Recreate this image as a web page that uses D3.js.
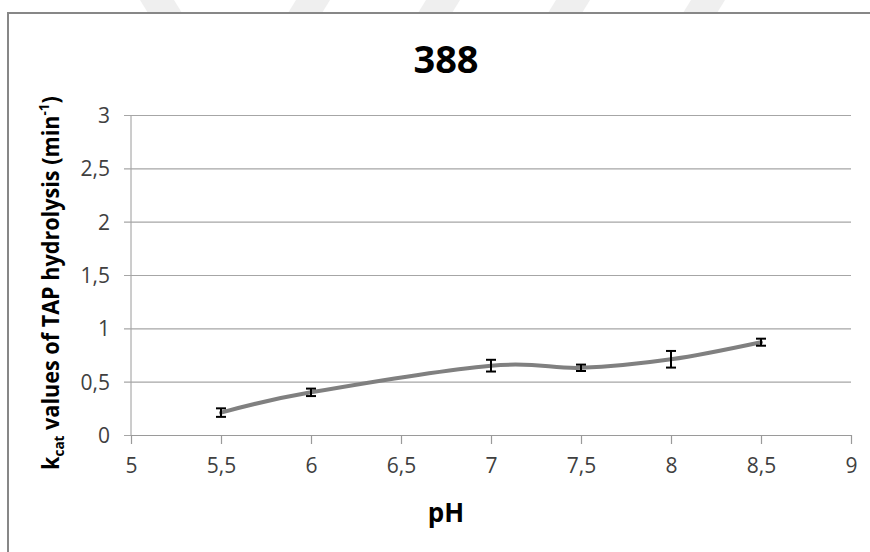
<!DOCTYPE html>
<html>
<head>
<meta charset="utf-8">
<script src="https://cdn.jsdelivr.net/npm/d3@7"></script>
<style>
  html, body { margin: 0; padding: 0; background: #fff; }
  svg { display: block; }
  text { font-family: "Open Sans", "Liberation Sans", sans-serif; }
</style>
</head>
<body>
<svg id="chart" width="870" height="552"></svg>
<script>
// pH values and measured kcat (min^-1) with standard deviations
const ph = [5.5, 6, 6.5, 7, 7.5, 8, 8.5];
const kcat = [0.21, 0.40, null, 0.65, 0.63, 0.71, 0.87];
const errs = [0.04, 0.035, null, 0.055, 0.03, 0.078, 0.033];
const xTicks = [5, 5.5, 6, 6.5, 7, 7.5, 8, 8.5, 9];
const yTicks = [0, 0.5, 1, 1.5, 2, 2.5, 3];
const title = "388";

const svg = d3.select("#chart");
const fmt = v => String(v).replace(".", ",");

// faint background stripes above the chart frame
const stripes = [[140, 200, -1], [270, 330, 1], [400, 460, 1], [530, 590, 1], [662, 725, 1]];
svg.append("g").selectAll("polygon").data(stripes).join("polygon")
  .attr("fill", "#efefef")
  .attr("points", d => {
    const [a, b, dir] = d;
    const s = 8;
    return dir < 0
      ? `${a},0 ${a + 34},0 ${a + 34 + s},13 ${a + s},13`
      : `${b - 34},0 ${b},0 ${b - s},13 ${b - 34 - s},13`;
  });

// chart frame
svg.append("rect")
  .attr("x", 8).attr("y", 13).attr("width", 900).attr("height", 600)
  .attr("fill", "#fff").attr("stroke", "#878787").attr("stroke-width", 2);

const m = { left: 131, right: 851, top: 115, bottom: 435 };
const x = d3.scaleLinear().domain([5, 9]).range([m.left, m.right]);
const y = d3.scaleLinear().domain([0, 3]).range([m.bottom, m.top]);

// horizontal gridlines + y axis
const yAxis = d3.axisLeft(y).tickValues(yTicks).tickFormat(fmt)
  .tickSize(-(m.right - m.left)).tickPadding(15);
const gy = svg.append("g").attr("transform", `translate(${m.left},0)`).call(yAxis);
gy.select(".domain").attr("stroke", "#9a9a9a").attr("d", `M0,${m.top}V${m.bottom}`);
gy.selectAll(".tick line").attr("stroke", "#a6a6a6").attr("stroke-width", 1.2)
  .attr("x1", -7);
gy.selectAll(".tick text").attr("font-size", 21).attr("fill", "#404040")
  .attr("x", -21).attr("dy", "0.36em");

// x axis
const xAxis = d3.axisBottom(x).tickValues(xTicks).tickFormat(fmt)
  .tickSize(9).tickSizeOuter(0).tickPadding(14);
const gx = svg.append("g").attr("transform", `translate(0,${m.bottom})`).call(xAxis);
gx.select(".domain").attr("stroke", "#9a9a9a").attr("stroke-width", 1.2);
gx.selectAll(".tick line").attr("stroke", "#9a9a9a").attr("stroke-width", 1.2);
gx.selectAll(".tick text").attr("font-size", 21).attr("fill", "#404040").attr("dy", "0.71em");

// data
const pts = ph.map((p, i) => ({ p, v: kcat[i], e: errs[i] })).filter(d => d.v != null);

const line = d3.line().x(d => x(d.p)).y(d => y(d.v)).curve(d3.curveCardinal.tension(0));
svg.append("path").datum(pts)
  .attr("d", line).attr("fill", "none")
  .attr("stroke", "#808080").attr("stroke-width", 4).attr("stroke-linecap", "round");

// error bars
const eb = svg.append("g").selectAll("g").data(pts).join("g")
  .attr("stroke", "#000").attr("stroke-width", 2);
eb.append("line")
  .attr("x1", d => x(d.p)).attr("x2", d => x(d.p))
  .attr("y1", d => y(d.v - d.e)).attr("y2", d => y(d.v + d.e));
eb.append("line")
  .attr("x1", d => x(d.p) - 5).attr("x2", d => x(d.p) + 5)
  .attr("y1", d => y(d.v - d.e)).attr("y2", d => y(d.v - d.e));
eb.append("line")
  .attr("x1", d => x(d.p) - 5).attr("x2", d => x(d.p) + 5)
  .attr("y1", d => y(d.v + d.e)).attr("y2", d => y(d.v + d.e));

// title
svg.append("text").attr("x", 446).attr("y", 73)
  .attr("text-anchor", "middle").attr("font-size", 38).attr("font-weight", "bold")
  .attr("fill", "#000").text(title);

// x axis title
svg.append("text").attr("x", 446).attr("y", 522)
  .attr("text-anchor", "middle").attr("font-size", 26).attr("font-weight", "bold")
  .attr("fill", "#000").text("pH");

// y axis title, fitted to the available height
const yl = svg.append("text")
  .attr("font-size", 24).attr("font-weight", "bold").attr("fill", "#000");
yl.append("tspan").text("k");
yl.append("tspan").attr("font-size", 15).attr("dy", 5).text("cat");
yl.append("tspan").attr("dy", -5).text(" values of TAP hydrolysis (min");
yl.append("tspan").attr("font-size", 15).attr("dy", -10).text("-1");
yl.append("tspan").attr("dy", 10).text(")");
const len = yl.node().getComputedTextLength();
const target = 374;
const sx = target / len;
yl.attr("text-anchor", "middle")
  .attr("transform", `translate(59,283) rotate(-90) scale(${sx},1)`);
</script>
</body>
</html>
